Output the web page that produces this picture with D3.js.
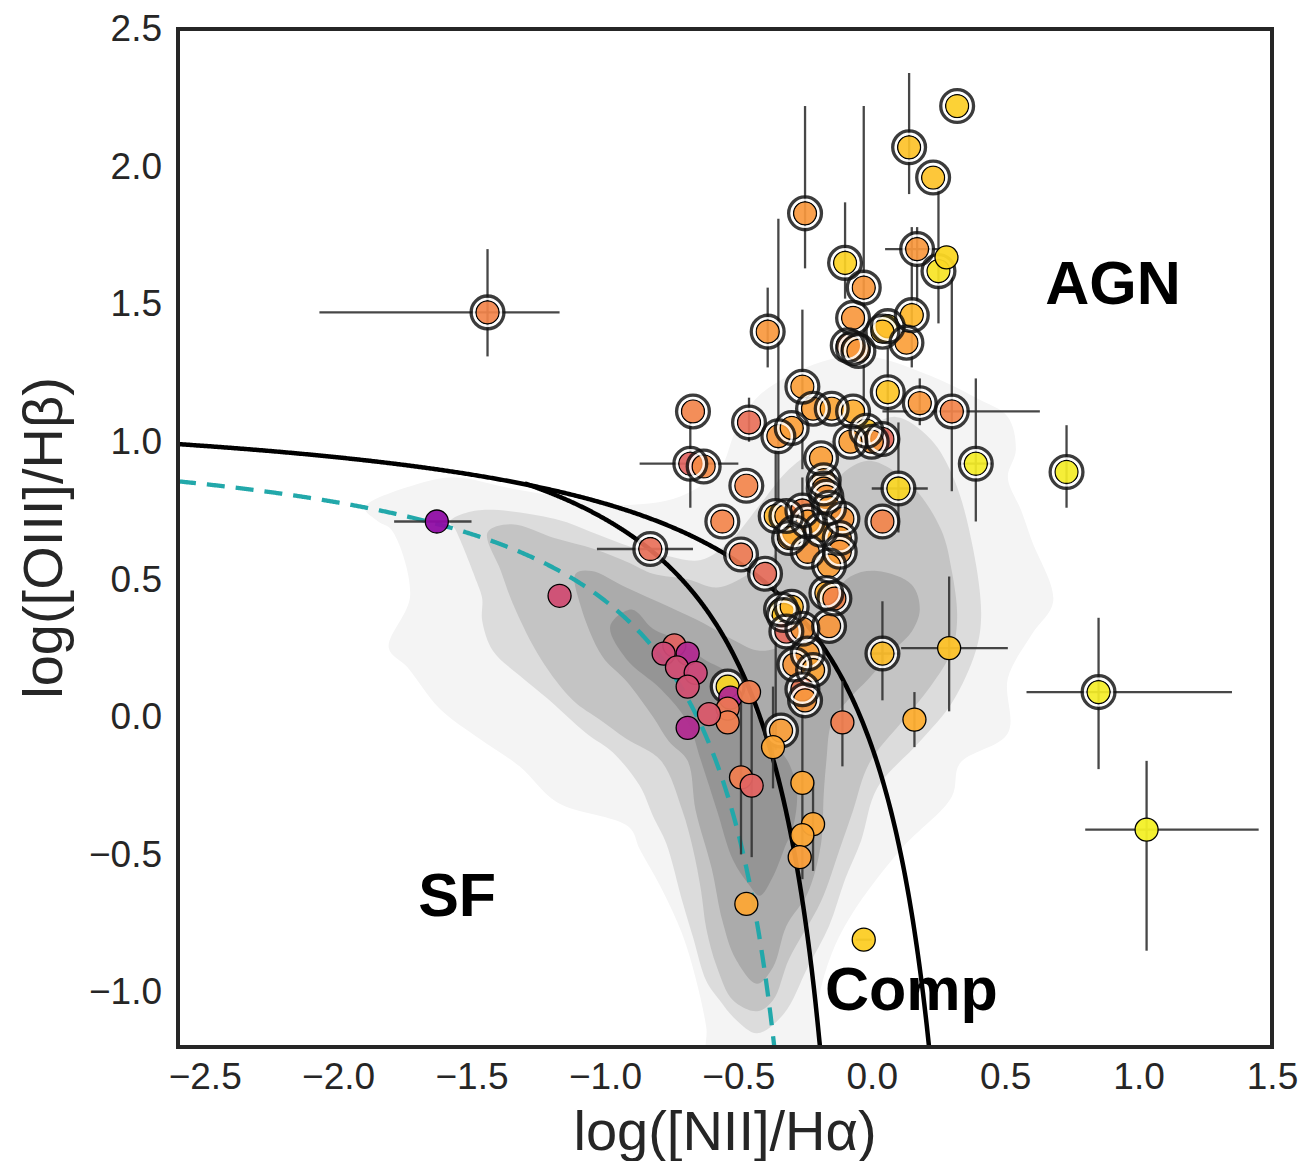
<!DOCTYPE html>
<html><head><meta charset="utf-8">
<script src="https://cdn.jsdelivr.net/npm/d3@7"></script>
<style>
body{margin:0;background:#fff;}
svg{display:block;font-family:"Liberation Sans",Arial,Helvetica,sans-serif;}
</style>
</head><body>
<svg id="chart" width="1304" height="1161"></svg>
<script>
// ---------- axes ----------
const xDomain = [-2.6, 1.5];
const yDomain = [-1.2, 2.5];
const xTicks = [-2.5, -2.0, -1.5, -1.0, -0.5, 0.0, 0.5, 1.0, 1.5];
const yTicks = [-1.0, -0.5, 0.0, 0.5, 1.0, 1.5, 2.0, 2.5];
const xLabel = "log([NII]/Hα)";
const yLabel = "log([OIII]/Hβ)";

// ---------- demarcation curves: y = a/(x - b) + c ----------
const kewleyCoef = [0.61, 0.47, 1.19];     // Kewley+01
const kauffmannCoef = [0.61, 0.05, 1.30];  // Kauffmann+03
const ridgeCoef = [0.61, -0.10, 1.10];     // dashed teal
const kauffmannStartX = -1.3;

// ---------- density contours of the comparison sample (outer -> inner) ----------
const contour1 = [[-1.90,0.76],[-1.69,0.85],[-1.56,0.87],[-1.35,0.83],[-1.17,0.80],[-0.94,0.77],[-0.72,0.80],[-0.57,0.90],[-0.51,1.04],[-0.42,1.17],[-0.19,1.29],[-0.01,1.31],[0.22,1.24],[0.39,1.16],[0.51,1.09],[0.54,0.97],[0.51,0.87],[0.56,0.75],[0.60,0.64],[0.68,0.42],[0.60,0.30],[0.51,0.14],[0.51,-0.06],[0.33,-0.17],[0.30,-0.29],[0.11,-0.48],[-0.07,-0.71],[-0.15,-0.86],[-0.20,-1.03],[-0.22,-1.25],[-0.61,-1.25],[-0.62,-1.13],[-0.66,-0.95],[-0.71,-0.79],[-0.79,-0.62],[-0.87,-0.48],[-0.91,-0.40],[-1.18,-0.31],[-1.32,-0.18],[-1.47,-0.08],[-1.62,0.03],[-1.74,0.18],[-1.81,0.25],[-1.73,0.44],[-1.80,0.68],[-1.85,0.71]];
const contour2 = [[-1.58,0.71],[-1.48,0.75],[-1.19,0.72],[-1.02,0.66],[-0.91,0.62],[-0.79,0.59],[-0.64,0.57],[-0.53,0.64],[-0.42,0.77],[-0.31,0.90],[-0.18,0.99],[-0.04,1.04],[0.09,1.09],[0.22,1.01],[0.31,0.86],[0.38,0.61],[0.41,0.37],[0.39,0.24],[0.30,0.05],[0.18,-0.09],[0.02,-0.26],[-0.04,-0.45],[-0.10,-0.59],[-0.16,-0.76],[-0.24,-0.91],[-0.33,-1.08],[-0.43,-1.15],[-0.51,-1.10],[-0.57,-1.03],[-0.62,-0.96],[-0.67,-0.80],[-0.71,-0.67],[-0.77,-0.46],[-0.82,-0.36],[-0.87,-0.25],[-0.97,-0.13],[-1.07,-0.06],[-1.22,0.07],[-1.32,0.15],[-1.42,0.24],[-1.46,0.35],[-1.46,0.43],[-1.48,0.49],[-1.56,0.68]];
const contour3 = [[-1.44,0.67],[-1.35,0.70],[-1.19,0.65],[-1.04,0.61],[-0.91,0.56],[-0.82,0.52],[-0.69,0.50],[-0.58,0.47],[-0.46,0.52],[-0.31,0.64],[-0.19,0.79],[-0.09,0.90],[0.00,0.93],[0.15,0.84],[0.26,0.68],[0.30,0.53],[0.32,0.36],[0.30,0.24],[0.22,0.11],[0.12,-0.01],[-0.01,-0.17],[-0.07,-0.34],[-0.12,-0.48],[-0.19,-0.67],[-0.31,-0.88],[-0.37,-1.03],[-0.43,-1.07],[-0.52,-1.03],[-0.58,-0.91],[-0.62,-0.77],[-0.64,-0.63],[-0.67,-0.48],[-0.71,-0.34],[-0.79,-0.16],[-0.92,-0.08],[-1.02,-0.01],[-1.12,0.06],[-1.24,0.21],[-1.34,0.40],[-1.39,0.53]];
const contour4 = [[-1.11,0.52],[-1.05,0.53],[-0.92,0.47],[-0.76,0.40],[-0.63,0.34],[-0.52,0.28],[-0.42,0.24],[-0.31,0.27],[-0.19,0.39],[-0.08,0.51],[0.02,0.53],[0.15,0.48],[0.18,0.39],[0.15,0.31],[0.08,0.24],[-0.01,0.14],[-0.09,0.06],[-0.15,-0.02],[-0.17,-0.16],[-0.18,-0.28],[-0.19,-0.46],[-0.24,-0.64],[-0.32,-0.76],[-0.37,-0.91],[-0.43,-0.97],[-0.51,-0.88],[-0.56,-0.74],[-0.60,-0.55],[-0.66,-0.34],[-0.69,-0.16],[-0.76,-0.09],[-0.82,0.00],[-0.92,0.13],[-1.01,0.22],[-1.09,0.40]];
const contour5 = [[-0.98,0.33],[-0.90,0.39],[-0.82,0.32],[-0.73,0.28],[-0.63,0.21],[-0.52,0.15],[-0.47,0.08],[-0.43,0.00],[-0.37,-0.09],[-0.31,-0.17],[-0.28,-0.28],[-0.30,-0.42],[-0.32,-0.46],[-0.37,-0.58],[-0.42,-0.65],[-0.46,-0.61],[-0.52,-0.52],[-0.58,-0.34],[-0.64,-0.16],[-0.69,-0.02],[-0.79,0.10],[-0.92,0.21]];
const contourFills = ["#f4f4f4", "#dcdcdc", "#c4c4c4", "#ababab", "#959595"];

// ---------- galaxies: [x, y, colour value 0..1 on plasma] ----------
const ringedPoints = [
  [0.32,2.22,0.90],[0.14,2.07,0.87],[0.23,1.96,0.87],[-0.25,1.83,0.76],[-0.10,1.65,0.91],
  [-0.03,1.56,0.76],[0.25,1.62,0.95],[0.17,1.70,0.76],[-0.39,1.40,0.76],[-0.07,1.45,0.76],
  [0.15,1.46,0.84],[0.06,1.42,0.91],[0.04,1.40,0.86],[0.13,1.36,0.78],[-0.09,1.35,0.72],
  [-0.07,1.34,0.78],[-0.05,1.33,0.76],[-0.26,1.20,0.78],[0.06,1.18,0.88],[0.18,1.14,0.76],
  [0.30,1.11,0.70],[-0.67,1.11,0.70],[-0.46,1.07,0.64],[-0.68,0.92,0.60],[-0.63,0.91,0.72],
  [-0.47,0.84,0.70],[-0.35,1.02,0.76],[-0.30,1.05,0.78],[-0.22,1.12,0.78],[-0.15,1.12,0.80],
  [-0.07,1.11,0.82],[-0.02,1.04,0.88],[0.04,1.01,0.62],[0.00,1.00,0.76],[-0.08,1.00,0.78],
  [-0.19,0.94,0.78],[-0.18,0.86,0.78],[-0.18,0.83,0.76],[0.39,0.92,0.97],[0.73,0.89,0.97],
  [0.10,0.83,0.92],[0.04,0.71,0.70],[-0.56,0.71,0.70],[-0.83,0.61,0.64],[-0.49,0.59,0.67],
  [-0.40,0.52,0.63],[-0.36,0.73,0.84],[-0.32,0.73,0.78],[-0.29,0.67,0.95],[-0.26,0.75,0.70],
  [-0.24,0.71,0.78],[-0.31,0.65,0.80],[-0.17,0.80,0.76],[-0.16,0.76,0.78],[-0.11,0.72,0.76],
  [-0.12,0.65,0.78],[-0.12,0.60,0.76],[-0.19,0.68,0.80],[-0.24,0.60,0.76],[-0.16,0.55,0.78],
  [-0.17,0.45,0.82],[-0.14,0.43,0.70],[-0.34,0.39,0.92],[-0.33,0.37,0.88],[-0.30,0.40,0.84],
  [-0.32,0.31,0.62],[-0.26,0.32,0.76],[-0.16,0.33,0.76],[-0.24,0.23,0.78],[-0.29,0.19,0.76],
  [-0.22,0.17,0.80],[-0.26,0.10,0.66],[-0.25,0.06,0.76],[0.04,0.23,0.86],[-0.54,0.11,0.92],
  [-0.34,-0.05,0.78],[0.85,0.09,0.97],[-1.44,1.47,0.70]
];
const plainPoints = [
  [0.28,1.67,0.92],[-1.63,0.71,0.30],[-1.17,0.44,0.52],[-0.74,0.26,0.60],[-0.69,0.23,0.40],
  [-0.78,0.23,0.51],[-0.73,0.18,0.52],[-0.66,0.16,0.50],[-0.69,0.11,0.53],[-0.53,0.07,0.40],
  [-0.46,0.09,0.68],[-0.54,0.03,0.66],[-0.54,-0.02,0.68],[-0.61,0.01,0.56],[-0.69,-0.04,0.40],
  [-0.37,-0.11,0.80],[-0.11,-0.02,0.68],[0.16,-0.01,0.82],[0.29,0.25,0.87],[-0.49,-0.22,0.68],
  [-0.45,-0.25,0.60],[-0.26,-0.24,0.80],[-0.22,-0.39,0.80],[-0.26,-0.43,0.80],[-0.27,-0.51,0.78],
  [-0.47,-0.68,0.80],[-0.03,-0.81,0.90],[1.03,-0.41,0.98]
];
// error bars: [x, y, xlo, xhi, ylo, yhi]  (null = none)
const errorBars = [
  [0.14,2.07,null,null,1.90,2.34],[-0.25,1.83,null,null,1.63,2.22],[-0.10,1.65,null,null,1.52,1.87],
  [-0.03,1.56,null,null,1.08,2.22],[0.25,1.62,null,null,1.43,1.93],[0.17,1.70,0.05,0.25,1.50,1.78],
  [-0.39,1.40,null,null,1.27,1.56],[0.15,1.46,null,null,1.27,1.78],[-0.26,1.20,null,null,0.90,1.48],
  [0.06,1.18,null,null,1.01,1.34],[0.18,1.14,null,null,1.06,1.23],[0.30,1.11,0.04,0.63,0.82,1.60],
  [-0.46,1.07,null,null,1.00,1.16],[-0.68,0.92,-0.87,-0.50,0.76,1.07],[-0.35,1.02,null,null,0.68,1.81],
  [0.39,0.92,0.33,0.45,0.71,1.23],[0.73,0.89,null,null,0.76,1.06],[0.10,0.83,0.00,0.21,0.67,1.07],
  [-0.83,0.61,-1.03,-0.67,null,null],[-0.36,0.73,null,null,-0.12,0.97],[0.04,0.23,-0.01,0.10,0.06,0.42],
  [0.85,0.09,0.58,1.35,-0.19,0.36],[-1.44,1.47,-2.07,-1.17,1.31,1.70],[-1.63,0.71,-1.79,-1.50,null,null],
  [-0.11,-0.02,null,null,-0.18,0.13],[0.16,-0.01,null,null,-0.11,0.09],[0.29,0.25,0.11,0.51,0.02,0.51],
  [-0.49,-0.22,null,null,-0.50,0.07],[-0.45,-0.25,null,null,-0.51,0.07],[-0.37,-0.11,null,null,-0.26,0.11],
  [-0.26,-0.24,null,null,-0.59,0.11],[-0.22,-0.39,null,null,-0.56,-0.23],[-0.03,-0.81,-0.06,0.00,null,null],
  [1.03,-0.41,0.80,1.45,-0.85,-0.16],[-0.26,0.75,null,null,0.68,0.87]
];
// region labels: [text, x, y]
const regionLabels = [["AGN", 0.65, 1.50], ["SF", -1.70, -0.724], ["Comp", -0.175, -1.066]];

(function draw() {
  const mLeft = 178, mRight = 1272, mTop = 29, mBottom = 1047;
  const svg = d3.select("#chart");
  const x = d3.scaleLinear().domain(xDomain).range([mLeft, mRight]);
  const y = d3.scaleLinear().domain(yDomain).range([mBottom, mTop]);
  const textColor = "#262626";

  svg.append("defs").append("clipPath").attr("id", "plotclip")
    .append("rect").attr("x", mLeft).attr("y", mTop).attr("width", mRight - mLeft).attr("height", mBottom - mTop);

  const plot = svg.append("g").attr("clip-path", "url(#plotclip)");

  // contours
  const poly = d3.line().x(d => x(d[0])).y(d => y(d[1])).curve(d3.curveCatmullRomClosed.alpha(0.5));
  [contour1, contour2, contour3, contour4, contour5].forEach((c, i) => {
    plot.append("path").attr("d", poly(c)).attr("fill", contourFills[i]).attr("stroke", "none");
  });

  // curves
  function curvePts(coef, x0, x1) {
    const [a, b, c] = coef;
    const pts = [];
    const n = 600;
    for (let i = 0; i <= n; i++) {
      const xv = x0 + (x1 - x0) * i / n;
      pts.push([xv, a / (xv - b) + c]);
    }
    return pts;
  }
  function xAtY(coef, yv) { const [a, b, c] = coef; return b + a / (yv - c); }
  const ln = d3.line().x(d => x(d[0])).y(d => y(d[1]));
  plot.append("path").attr("d", ln(curvePts(ridgeCoef, xDomain[0], xAtY(ridgeCoef, -1.3))))
    .attr("fill", "none").attr("stroke", "#22a8aa").attr("stroke-width", 4.3).attr("stroke-dasharray", "18,11");
  plot.append("path").attr("d", ln(curvePts(kewleyCoef, xDomain[0], xAtY(kewleyCoef, -1.3))))
    .attr("fill", "none").attr("stroke", "#000").attr("stroke-width", 4.5);
  plot.append("path").attr("d", ln(curvePts(kauffmannCoef, kauffmannStartX, xAtY(kauffmannCoef, -1.3))))
    .attr("fill", "none").attr("stroke", "#000").attr("stroke-width", 4.5);

  // error bars
  const eb = plot.append("g").attr("stroke", "#333").attr("stroke-width", 2.3).attr("stroke-opacity", 0.9);
  errorBars.forEach(e => {
    const [xv, yv, xlo, xhi, ylo, yhi] = e;
    if (xlo !== null) eb.append("line").attr("x1", x(xlo)).attr("x2", x(xhi)).attr("y1", y(yv)).attr("y2", y(yv));
    if (ylo !== null) eb.append("line").attr("x1", x(xv)).attr("x2", x(xv)).attr("y1", y(ylo)).attr("y2", y(yhi));
  });

  // ringed points: fills then rings
  const col = v => d3.interpolatePlasma(v);
  const gR = plot.append("g");
  gR.selectAll("circle.fill").data(ringedPoints).join("circle")
    .attr("class", "fill").attr("cx", d => x(d[0])).attr("cy", d => y(d[1])).attr("r", 11.5)
    .attr("fill", d => col(d[2])).attr("fill-opacity", 0.92)
    .attr("stroke", "#000").attr("stroke-width", 1.3);
  gR.selectAll("circle.gap").data(ringedPoints).join("circle")
    .attr("class", "gap").attr("cx", d => x(d[0])).attr("cy", d => y(d[1])).attr("r", 13.6)
    .attr("fill", "none").attr("stroke", "#fff").attr("stroke-width", 2.6).attr("stroke-opacity", 0.85);
  gR.selectAll("circle.ring").data(ringedPoints).join("circle")
    .attr("class", "ring").attr("cx", d => x(d[0])).attr("cy", d => y(d[1])).attr("r", 16.4)
    .attr("fill", "none").attr("stroke", "#111").attr("stroke-width", 3.3).attr("stroke-opacity", 0.82);

  // plain points
  plot.append("g").selectAll("circle").data(plainPoints).join("circle")
    .attr("cx", d => x(d[0])).attr("cy", d => y(d[1])).attr("r", 11.5)
    .attr("fill", d => col(d[2])).attr("fill-opacity", 0.95)
    .attr("stroke", "#000").attr("stroke-width", 1.3);

  // region labels
  regionLabels.forEach(([t, xv, yv]) => {
    svg.append("text").attr("x", x(xv)).attr("y", y(yv)).text(t)
      .attr("font-size", 61).attr("font-weight", "bold").attr("fill", "#000");
  });

  // frame
  svg.append("rect").attr("x", mLeft).attr("y", mTop).attr("width", mRight - mLeft).attr("height", mBottom - mTop)
    .attr("fill", "none").attr("stroke", textColor).attr("stroke-width", 4);

  // axes
  const fmt = d3.format(".1f");
  const xAxis = svg.append("g").attr("transform", `translate(0,${mBottom})`)
    .call(d3.axisBottom(x).tickValues(xTicks).tickFormat(fmt).tickSize(0).tickPadding(16));
  const yAxis = svg.append("g").attr("transform", `translate(${mLeft},0)`)
    .call(d3.axisLeft(y).tickValues(yTicks).tickFormat(fmt).tickSize(0).tickPadding(16));
  [xAxis, yAxis].forEach(a => {
    a.select(".domain").remove();
    a.selectAll("text").attr("font-size", 37).attr("fill", textColor)
      .attr("font-family", '"Liberation Sans", Arial, sans-serif');
  });

  svg.append("text").attr("x", (mLeft + mRight) / 2).attr("y", 1150).attr("text-anchor", "middle")
    .attr("font-size", 56).attr("fill", textColor).text(xLabel);
  svg.append("text").attr("transform", `translate(62,${(mTop + mBottom) / 2}) rotate(-90)`)
    .attr("text-anchor", "middle").attr("font-size", 56).attr("fill", textColor).text(yLabel);
})();
</script>
</body></html>
